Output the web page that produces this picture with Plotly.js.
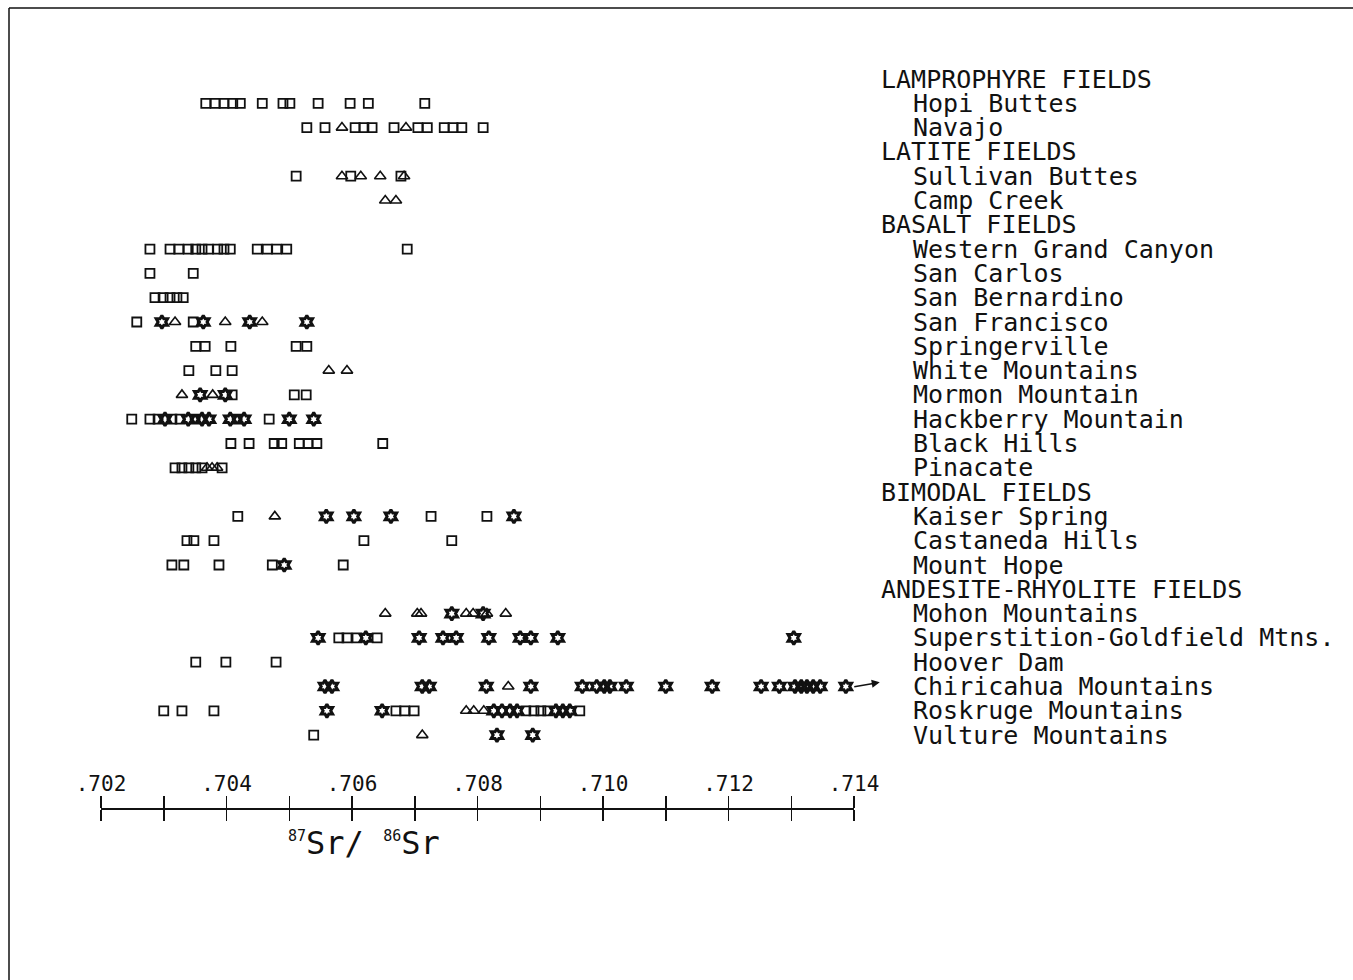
<!DOCTYPE html>
<html>
<head>
<meta charset="utf-8">
<script src="https://cdn.plot.ly/plotly-3.0.1.min.js"></script>
<style>
  html, body { margin: 0; padding: 0; background: #ffffff; }
  #chart { width: 1353px; height: 980px; }
</style>
</head>
<body>
<div id="chart"></div>
<script>
// Volcanic field groups and the number of fields listed under each
const groupTitles = ['LAMPROPHYRE FIELDS', 'LATITE FIELDS', 'BASALT FIELDS', 'BIMODAL FIELDS', 'ANDESITE-RHYOLITE FIELDS'];
const groupSizes = [2, 2, 10, 3, 6];

const fieldNames = [
  'Hopi Buttes', 'Navajo',
  'Sullivan Buttes', 'Camp Creek',
  'Western Grand Canyon', 'San Carlos', 'San Bernardino', 'San Francisco', 'Springerville',
  'White Mountains', 'Mormon Mountain', 'Hackberry Mountain', 'Black Hills', 'Pinacate',
  'Kaiser Spring', 'Castaneda Hills', 'Mount Hope',
  'Mohon Mountains', 'Superstition-Goldfield Mtns.', 'Hoover Dam', 'Chiricahua Mountains',
  'Roskruge Mountains', 'Vulture Mountains'
];

// 87Sr/86Sr ratios per field, one list per symbol (same order as fieldNames)
const squareValues = [
  [.70367, .70382, .70396, .70410, .70422, .70457, .70490, .70501, .70546, .70597, .70626, .70716],
  [.70528, .70557, .70605, .70619, .70632, .70667, .70705, .70720, .70747, .70761, .70775, .70809],
  [.70511, .70598, .70678],
  [],
  [.70278, .70310, .70324, .70339, .70351, .70361, .70371, .70386, .70396, .70406, .70449, .70465, .70480, .70496, .70688],
  [.70278, .70347],
  [.70286, .70299, .70310, .70321, .70331],
  [.70257, .70347],
  [.70351, .70366, .70407, .70511, .70528],
  [.70340, .70383, .70409],
  [.70409, .70508, .70527],
  [.70249, .70278, .70291, .70313, .70326, .70350, .70417, .70468],
  [.70407, .70436, .70476, .70488, .70516, .70530, .70544, .70649],
  [.70318, .70329, .70340, .70351, .70361, .70393],
  [.70418, .70726, .70815],
  [.70337, .70348, .70380, .70619, .70759],
  [.70313, .70332, .70388, .70473, .70586],
  [],
  [.70579, .70592, .70608, .70640],
  [.70351, .70399, .70479],
  [],
  [.70300, .70329, .70380, .70670, .70684, .70699, .70877, .70890, .70901, .70912, .70963],
  [.70539]
];

const triangleValues = [
  [],
  [.70584, .70686],
  [.70584, .70614, .70645, .70683],
  [.70653, .70670],
  [], [], [],
  [.70318, .70398, .70457],
  [],
  [.70563, .70592],
  [.70329, .70378],
  [],
  [],
  [.70369, .70377, .70385],
  [.70477],
  [],
  [],
  [.70653, .70704, .70710, .70782, .70793, .70815, .70845],
  [],
  [],
  [.70849],
  [.70782, .70794, .70810],
  [.70712]
];

const starValues = [
  [], [], [], [], [], [], [],
  [.70297, .70363, .70437, .70528],
  [],
  [],
  [.70358, .70398],
  [.70302, .70339, .70361, .70372, .70406, .70428, .70500, .70539],
  [],
  [],
  [.70559, .70603, .70662, .70858],
  [],
  [.70492],
  [.70759, .70809],
  [.70546, .70622, .70707, .70745, .70766, .70818, .70868, .70885, .70928, .71304],
  [],
  [.70557, .70568, .70712, .70723, .70814, .70885, .70967, .70990, .71002, .71011, .71037,
   .71100, .71174, .71252, .71281, .71306, .71316, .71325, .71335, .71346, .71387],
  [.70560, .70648, .70826, .70839, .70852, .70863, .70925, .70936, .70947],
  [.70831, .70888]
];

// Chiricahua sample lying beyond the end of the scale (tail and head of the arrow)
const offScaleArrow = [.71398, .71441];

const labelTicks = [.702, .704, .706, .708, .710, .712, .714];
const labelTickText = ['.702', '.704', '.706', '.708', '.710', '.712', '.714'];
const allTicks = [.702, .703, .704, .705, .706, .707, .708, .709, .710, .711, .712, .713, .714];

// Assign a text line to every group header and field
const headerLines = [];
const fieldLines = [];
let line = 0;
groupSizes.forEach(function (n) {
  headerLines.push(line++);
  for (let k = 0; k < n; k++) fieldLines.push(line++);
});

function pointsFor(valuesByField) {
  const xs = [], ys = [];
  valuesByField.forEach(function (vals, i) {
    vals.forEach(function (v) { xs.push(v); ys.push(fieldLines[i]); });
  });
  return { x: xs, y: ys };
}

const sq = pointsFor(squareValues);
const tri = pointsFor(triangleValues);
const st = pointsFor(starValues);
const chiLine = fieldLines[fieldNames.indexOf('Chiricahua Mountains')];

const ink = '#111111';
const traces = [
  { type: 'scatter', mode: 'markers', x: sq.x, y: sq.y, xaxis: 'x', yaxis: 'y', hoverinfo: 'x',
    marker: { symbol: 'square-open', size: 9, color: ink, line: { width: 1.8, color: ink } } },
  { type: 'scatter', mode: 'markers', x: tri.x, y: tri.y, xaxis: 'x', yaxis: 'y', hoverinfo: 'x',
    marker: { symbol: 'triangle-up-open', size: 10, color: ink, line: { width: 1.6, color: ink } } },
  { type: 'scatter', mode: 'markers', x: st.x, y: st.y, xaxis: 'x', yaxis: 'y', hoverinfo: 'x',
    marker: { symbol: 'hexagram-open', size: 10, color: ink, line: { width: 3, color: ink } } },
  // carries the upper half of the scale (labels and upward ticks)
  { type: 'scatter', mode: 'markers', x: [], y: [], xaxis: 'x2', yaxis: 'y', hoverinfo: 'skip' }
];

const W = 1353, H = 980;
const axisLeft = 101, axisRight = 854, axisY = 809;
const topLine = 79, lineStep = 24.3;
const yRange = [(H - topLine) / lineStep, -topLine / lineStep];
const mono = 'DejaVu Sans Mono, monospace';

const annotations = [];
function addRowText(t, px, ln) {
  annotations.push({ text: t, xref: 'paper', yref: 'y', x: px / W, y: ln,
    xanchor: 'left', yanchor: 'middle', showarrow: false,
    font: { family: mono, size: 25, color: ink } });
}
groupTitles.forEach(function (t, i) { addRowText(t, 879, headerLines[i]); });
fieldNames.forEach(function (t, i) { addRowText(t, 911, fieldLines[i]); });

// axis title
annotations.push({
  text: '<sup><span style="font-size:15px">87</span></sup>Sr/ <sup><span style="font-size:15px">86</span></sup>Sr',
  xref: 'paper', yref: 'paper', x: 364 / W, y: 1 - 843 / H, xanchor: 'center', yanchor: 'middle',
  showarrow: false, font: { family: mono, size: 32, color: ink } });

// off-scale arrow on the Chiricahua row
annotations.push({ text: '', xref: 'x', yref: 'y', axref: 'x', ayref: 'y',
  x: offScaleArrow[1], y: chiLine - 0.17, ax: offScaleArrow[0], ay: chiLine + 0.02,
  showarrow: true, arrowhead: 2, arrowsize: 1, arrowwidth: 1.6, arrowcolor: ink,
  standoff: 0, startstandoff: 0 });

const axisBase = {
  range: [0.702, 0.714], domain: [axisLeft / W, axisRight / W],
  anchor: 'free', position: 1 - axisY / H,
  showgrid: false, zeroline: false, showline: true, linewidth: 2, linecolor: ink,
  ticks: 'outside', tickwidth: 1.5, tickcolor: ink, fixedrange: true
};

const layout = {
  width: W, height: H,
  margin: { l: 0, r: 0, t: 0, b: 0 },
  paper_bgcolor: '#ffffff', plot_bgcolor: '#ffffff',
  showlegend: false,
  xaxis: Object.assign({}, axisBase, { side: 'bottom', ticklen: 11, tickmode: 'array',
    tickvals: allTicks, showticklabels: false }),
  xaxis2: Object.assign({}, axisBase, { side: 'top', overlaying: 'x', ticklen: 12,
    tickmode: 'array', tickvals: labelTicks, ticktext: labelTickText, showticklabels: true,
    ticklabelstandoff: -3,
    minor: { tickmode: 'array', tickvals: allTicks, ticks: 'outside', ticklen: 12, tickwidth: 1.5, tickcolor: ink, showgrid: false },
    tickfont: { family: mono, size: 21, color: ink } }),
  yaxis: { range: yRange, domain: [0, 1], visible: false, fixedrange: true },
  annotations: annotations,
  shapes: [
    { type: 'line', xref: 'paper', yref: 'paper', x0: 9 / W, x1: 9 / W, y0: 0, y1: 1 - 8 / H, line: { color: ink, width: 1.5 } },
    { type: 'line', xref: 'paper', yref: 'paper', x0: 9 / W, x1: 1, y0: 1 - 8 / H, y1: 1 - 8 / H, line: { color: ink, width: 1.5 } }
  ]
};

Plotly.newPlot('chart', traces, layout, { displayModeBar: false, staticPlot: true });
</script>
</body>
</html>
